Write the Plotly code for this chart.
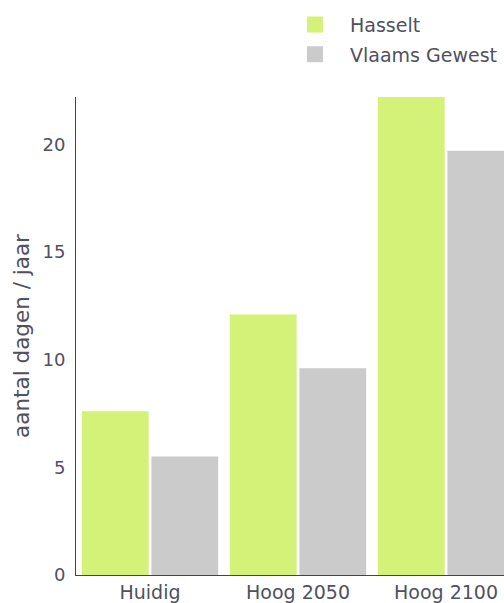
import plotly.graph_objects as go

categories = ["Huidig", "Hoog 2050", "Hoog 2100"]
hasselt = [7.6, 12.1, 22.3]
vlaams = [5.5, 9.6, 19.7]
series_names = ["Hasselt", "Vlaams Gewest"]
colors = ["#d4f277", "#cbcbcb"]
y_ticks = [0, 5, 10, 15, 20]

FONT = "DejaVu Sans"
TXT = "#505060"

fig = go.Figure()
for name, vals, col in zip(series_names, [hasselt, vlaams], colors):
    fig.add_trace(go.Bar(x=categories, y=vals, name=name, marker=dict(color=col, line=dict(width=0)),
                         showlegend=False))
# legend-only entries with larger square symbols
for name, col in zip(series_names, colors):
    fig.add_trace(go.Scatter(x=[None], y=[None], mode="markers", name=name, legendgroup=name,
                             marker=dict(symbol="square", size=20, color=col), showlegend=True))

fig.update_layout(
    width=504, height=603,
    margin=dict(l=76, r=0, t=97, b=25),
    plot_bgcolor="white", paper_bgcolor="white",
    barmode="group", bargap=0.06, bargroupgap=0.04,
    font=dict(family=FONT, color=TXT, size=19),
    legend=dict(x=0.4766, y=1.191, xanchor="left", yanchor="top",
                font=dict(size=19, color=TXT), itemwidth=60,
                bgcolor="rgba(0,0,0,0)", tracegroupgap=2),
    xaxis=dict(range=[-0.5, 2.392], showline=True, linecolor="#444", linewidth=1,
               layer="below traces", ticks="", showgrid=False, zeroline=False,
               tickfont=dict(size=19, color=TXT)),
    yaxis=dict(range=[0, 22.2], tickvals=y_ticks, showline=True, linecolor="#444", linewidth=1,
               ticks="", showgrid=False, zeroline=False, ticklabelstandoff=6,
               tickfont=dict(size=18, color=TXT),
               title=dict(text="aantal dagen / jaar", font=dict(size=21.5, color=TXT), standoff=6)),
)

fig.write_html("out.html", config={"displayModeBar": False},
               post_script="document.body.style.margin='0px';document.body.style.overflow='hidden';")
